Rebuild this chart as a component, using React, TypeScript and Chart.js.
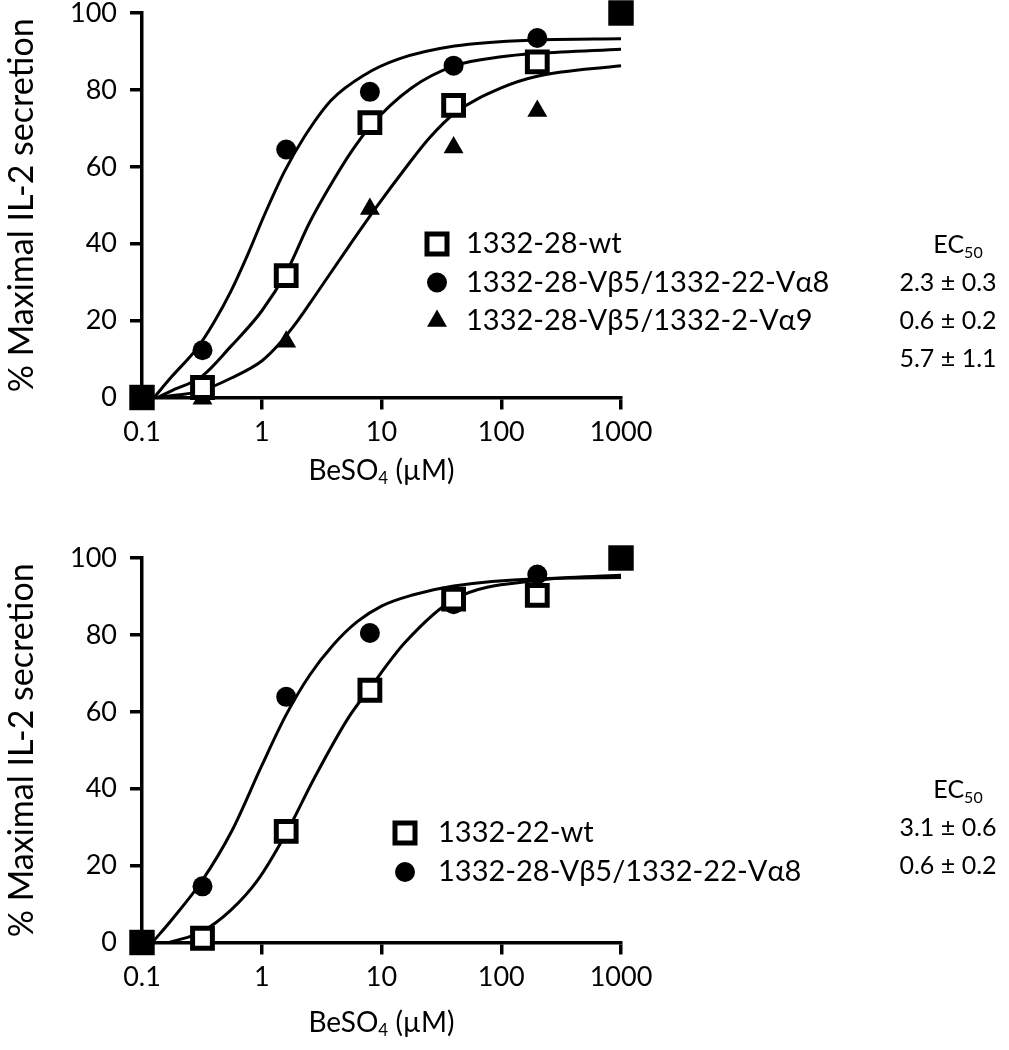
import React, { useEffect, useRef } from "react";
import { Chart, registerables } from "chart.js";

Chart.register(...registerables);

const FONT = "Lato, 'Open Sans', 'DejaVu Sans', sans-serif";

// ---------- axis ticks ----------
const xTickValues = [0.1, 1, 10, 100, 1000];
const yTickStep = 20;

// ---------- measured points ----------
const doses = [0.32, 1.6, 8, 40, 200];
const endpointX = [0.1, 1000];
const endpointY = [0, 100];

// top panel
const topWt = [2.6, 31.7, 71.5, 76, 87.3];
const topVb5Va8 = [12.3, 64.5, 79.5, 86.3, 93.5];
const topVb5Va9 = [-0.3, 14.5, 49, 65, 74.5];

// bottom panel
const botWt = [1.1, 28.9, 65.6, 89.3, 90.3];
const botVb5Va8 = [14.6, 63.9, 80.5, 88, 95.7];

// ---------- fitted curves ----------
const topFitWtX = [0.135, 0.178, 0.316, 0.552, 1, 1.6, 2.51, 3.8, 5.62, 8.13, 17.8, 41.1, 100, 204, 1000];
const topFitWtY = [0, 1.8, 5.5, 13.3, 22.5, 32.5, 45.5, 55.5, 64, 70.7, 80.5, 86.3, 88.6, 89.5, 90.6];
const topFitVa8X = [0.126, 0.178, 0.29, 0.398, 0.552, 0.762, 1.05, 1.55, 2.27, 3.8, 7.2, 13.8, 40.7, 204, 1000];
const topFitVa8Y = [0, 5.5, 12.9, 19.5, 27.6, 37.1, 47.4, 58.8, 67.8, 77.3, 83.9, 88, 91.4, 93, 93.3];
const topFitVa9X = [0.138, 0.316, 0.552, 1, 1.36, 2, 2.75, 5.25, 9.06, 15.7, 25.1, 41.1, 100, 204, 1000];
const topFitVa9Y = [0, 1.8, 5, 9.5, 13.5, 20, 26.2, 39, 49.5, 59.5, 67.5, 74, 80.5, 83.6, 86.3];

const botFitVa8X = [0.122, 0.178, 0.316, 0.562, 1, 1.585, 2.51, 3.98, 6.31, 10, 17.8, 40, 200, 1000];
const botFitVa8Y = [0, 6, 16, 29, 46, 59, 69.5, 77.5, 83.5, 87.5, 90.3, 92.7, 94.6, 94.9];
const botFitWtX = [0.168, 0.316, 0.552, 0.925, 1.585, 2.75, 5.25, 7.94, 15.7, 40.7, 204, 1000];
const botFitWtY = [0, 2.8, 8.4, 16.2, 28.2, 42.8, 58.3, 66, 78, 89.3, 94.2, 95.5];

// ---------- labels ----------
const topLabels = ["1332-28-wt", "1332-28-Vβ5/1332-22-Vα8", "1332-28-Vβ5/1332-2-Vα9"];
const topStyles = ["square", "circle", "triangle"];
const topEC50 = ["2.3 ± 0.3", "0.6 ± 0.2", "5.7 ± 1.1"];
const botLabels = ["1332-22-wt", "1332-28-Vβ5/1332-22-Vα8"];
const botStyles = ["square", "circle"];
const botEC50 = ["3.1 ± 0.6", "0.6 ± 0.2"];
const yTitle = "% Maximal IL-2 secretion";
const xTitleParts = ["BeSO", "4", " (µM)"];
const ecParts = ["EC", "50"];

const zip = (xs: number[], ys: number[]) => xs.map((x, i) => ({ x, y: ys[i] }));

function drawMarker(ctx: CanvasRenderingContext2D, style: string, x: number, y: number) {
  ctx.save();
  ctx.fillStyle = "#000";
  ctx.strokeStyle = "#000";
  if (style === "square") {
    ctx.lineWidth = 5;
    ctx.fillStyle = "#fff";
    ctx.beginPath();
    ctx.rect(x - 10, y - 10, 20, 20);
    ctx.fill();
    ctx.stroke();
  } else if (style === "circle") {
    ctx.beginPath();
    ctx.arc(x, y, 10, 0, Math.PI * 2);
    ctx.fill();
  } else {
    const r = 11.5;
    ctx.beginPath();
    ctx.moveTo(x, y - r);
    ctx.lineTo(x + r * 0.866, y + r * 0.5);
    ctx.lineTo(x - r * 0.866, y + r * 0.5);
    ctx.closePath();
    ctx.fill();
  }
  ctx.restore();
}

function drawSub(ctx: CanvasRenderingContext2D, parts: string[], cx: number, cy: number, size: number) {
  const big = `${size}px ${FONT}`;
  const small = `${Math.round(size * 0.62)}px ${FONT}`;
  ctx.font = big;
  const w0 = ctx.measureText(parts[0]).width;
  const w2 = parts[2] ? ctx.measureText(parts[2]).width : 0;
  ctx.font = small;
  const w1 = ctx.measureText(parts[1]).width;
  let x = cx - (w0 + w1 + w2) / 2;
  ctx.textAlign = "left";
  ctx.textBaseline = "middle";
  ctx.font = big;
  ctx.fillText(parts[0], x, cy);
  x += w0;
  ctx.font = small;
  ctx.fillText(parts[1], x, cy + size * 0.3);
  x += w1;
  if (parts[2]) {
    ctx.font = big;
    ctx.fillText(parts[2], x, cy);
  }
}

const decorPlugin = {
  id: "decor",
  afterDraw(chart: any, _args: any, opts: any) {
    const ctx: CanvasRenderingContext2D = chart.ctx;
    const area = chart.chartArea;
    ctx.save();
    ctx.fillStyle = "#000";
    // x axis title
    drawSub(ctx, xTitleParts, (area.left + area.right) / 2, area.bottom + opts.xTitleOffset, 28);
    // legend
    opts.labels.forEach((lab: string, i: number) => {
      const y = opts.legendY + i * opts.rowGap;
      drawMarker(ctx, opts.styles[i], opts.markerX, y);
      ctx.fillStyle = "#000";
      ctx.textAlign = "left";
      ctx.textBaseline = "middle";
      ctx.font = `29px ${FONT}`;
      ctx.fillText(lab, opts.textX, y);
    });
    // EC50 column
    drawSub(ctx, ecParts, opts.ecX + 10, opts.ecY, 25);
    ctx.font = `25px ${FONT}`;
    ctx.textAlign = "center";
    ctx.textBaseline = "middle";
    opts.ec.forEach((v: string, i: number) => {
      ctx.fillText(v, opts.ecX, opts.ecY + (i + 1) * opts.ecGap);
    });
    ctx.restore();
  },
};

function makeConfig(
  height: number,
  pointSets: { data: number[]; style: string }[],
  curves: { x: number[]; y: number[] }[],
  decor: any
): any {
  const datasets: any[] = [];
  pointSets.forEach((p) => {
    const isSq = p.style === "square";
    datasets.push({
      data: zip(doses, p.data),
      showLine: false,
      pointStyle: isSq ? "rect" : p.style,
      pointRadius: isSq ? 14 : p.style === "circle" ? 10 : 11.5,
      pointBackgroundColor: isSq ? "#fff" : "#000",
      pointBorderColor: "#000",
      pointBorderWidth: isSq ? 5 : 0,
      clip: false,
      order: 0,
    });
  });
  datasets.push({
    data: zip(endpointX, endpointY),
    showLine: false,
    pointStyle: "rect",
    pointRadius: 18,
    pointBackgroundColor: "#000",
    pointBorderWidth: 0,
    clip: false,
    order: 0,
  });
  curves.forEach((c) => {
    datasets.push({
      data: zip(c.x, c.y),
      showLine: true,
      borderColor: "#000",
      borderWidth: 3,
      pointRadius: 0,
      cubicInterpolationMode: "monotone",
      fill: false,
      clip: false,
      order: 1,
    });
  });
  const tickFont = { family: FONT, size: 27 };
  const gridOpts = {
    drawOnChartArea: false,
    drawTicks: true,
    tickLength: 12,
    tickWidth: 3.5,
    tickColor: "#000",
    color: "#000",
    lineWidth: 3.5,
  };
  return {
    type: "scatter",
    data: { datasets },
    plugins: [decorPlugin],
    options: {
      responsive: false,
      animation: false,
      events: [],
      layout: { padding: { left: 0, right: 388, top: 0, bottom: 0 } },
      plugins: {
        legend: { display: false },
        tooltip: { enabled: false },
        decor,
      },
      scales: {
        x: {
          type: "logarithmic",
          min: 0.1,
          max: 1000,
          afterBuildTicks: (s: any) => {
            s.ticks = xTickValues.map((v) => ({ value: v }));
          },
          afterFit: (s: any) => {
            s.height = height - 403.5;
            s.paddingLeft = 0;
            s.paddingRight = 0;
          },
          ticks: {
            color: "#000",
            font: tickFont,
            padding: 7,
            maxRotation: 0,
            autoSkip: false,
            callback: (v: any) => String(v),
          },
          grid: gridOpts,
          border: { display: true, color: "#000", width: 3.5 },
        },
        y: {
          min: 0,
          max: 100,
          afterFit: (s: any) => {
            s.width = 142;
            s.paddingTop = 0;
            s.paddingBottom = 0;
          },
          ticks: { stepSize: yTickStep, color: "#000", font: tickFont, padding: 13 },
          grid: gridOpts,
          border: { display: true, color: "#000", width: 3.5 },
          title: {
            display: true,
            text: yTitle,
            color: "#000",
            font: { family: FONT, size: 34 },
            padding: { top: 2, bottom: 0 },
          },
        },
      },
    },
  };
}

function Panel({ top, height, config }: { top: number; height: number; config: any }) {
  const ref = useRef<HTMLCanvasElement | null>(null);
  useEffect(() => {
    if (!ref.current) return;
    const chart = new Chart(ref.current, config);
    return () => chart.destroy();
  }, []);
  return (
    <canvas
      ref={ref}
      width={1009}
      height={height}
      style={{ position: "absolute", left: 0, top, width: 1009, height, display: "block" }}
    />
  );
}

export default function App() {
  const topConfig = makeConfig(
    551,
    [
      { data: topWt, style: "square" },
      { data: topVb5Va8, style: "circle" },
      { data: topVb5Va9, style: "triangle" },
    ],
    [
      { x: topFitWtX, y: topFitWtY },
      { x: topFitVa8X, y: topFitVa8Y },
      { x: topFitVa9X, y: topFitVa9Y },
    ],
    {
      xTitleOffset: 73,
      labels: topLabels,
      styles: topStyles,
      markerX: 437,
      textX: 466,
      legendY: 250,
      rowGap: 38.5,
      ec: topEC50,
      ecX: 948,
      ecY: 251,
      ecGap: 38,
    }
  );
  const botConfig = makeConfig(
    511,
    [
      { data: botWt, style: "square" },
      { data: botVb5Va8, style: "circle" },
    ],
    [
      { x: botFitVa8X, y: botFitVa8Y },
      { x: botFitWtX, y: botFitWtY },
    ],
    {
      xTitleOffset: 80,
      labels: botLabels,
      styles: botStyles,
      markerX: 405,
      textX: 438,
      legendY: 294,
      rowGap: 39,
      ec: botEC50,
      ecX: 948,
      ecY: 251,
      ecGap: 38,
    }
  );
  return (
    <div style={{ position: "absolute", left: 0, top: 0, width: 1009, height: 1050, background: "#fff", overflow: "hidden" }}>
      <Panel top={-6} height={551} config={topConfig} />
      <Panel top={539} height={511} config={botConfig} />
    </div>
  );
}
